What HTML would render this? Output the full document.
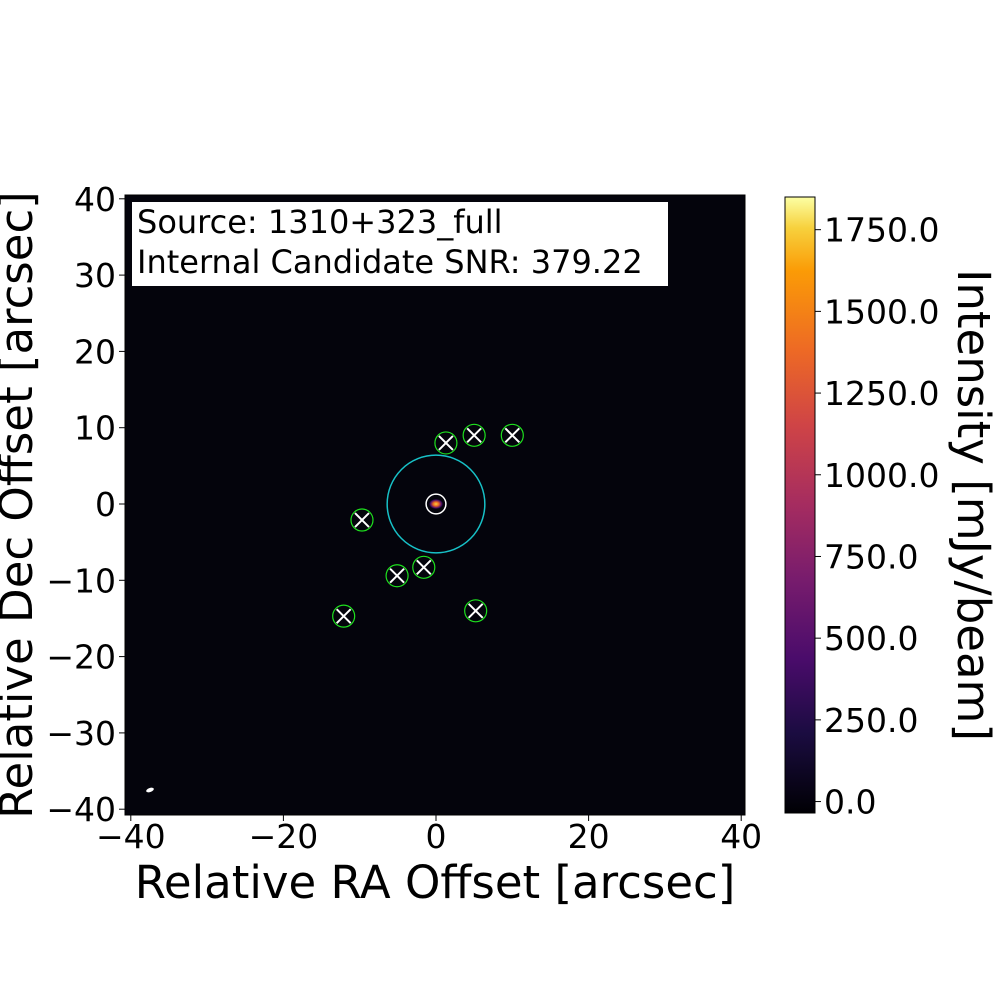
<!DOCTYPE html>
<html><head><meta charset="utf-8"><style>
body{margin:0;background:#fff}
svg text{font-family:"DejaVu Sans",sans-serif;fill:#000}
</style></head><body>
<svg id="c" width="1000" height="1000" xmlns="http://www.w3.org/2000/svg">
<defs>
<linearGradient id="inf" x1="0" y1="1" x2="0" y2="0">
<stop offset="0" stop-color="#000004"/><stop offset="0.13" stop-color="#1b0c41"/>
<stop offset="0.25" stop-color="#4a0c6b"/><stop offset="0.38" stop-color="#781c6d"/>
<stop offset="0.5" stop-color="#a52c60"/><stop offset="0.63" stop-color="#cf4446"/>
<stop offset="0.75" stop-color="#ed6925"/><stop offset="0.88" stop-color="#fb9b06"/>
<stop offset="0.95" stop-color="#f7d13d"/><stop offset="1" stop-color="#fcffa4"/>
</linearGradient>
<radialGradient id="src"><stop offset="0" stop-color="#f7d13d"/><stop offset="0.4" stop-color="#ed6925"/><stop offset="0.8" stop-color="#4a0c6b"/><stop offset="1" stop-color="#05030f"/></radialGradient>
</defs>
<g id="plot"></g>
</svg>
<script>
const xTicks=[-40,-20,0,20,40];
const yTicks=[40,30,20,10,0,-10,-20,-30,-40];
const candX=[1.3,5.0,10.0,-9.7,-5.1,-1.6,-12.1,5.2];
const candY=[8.0,9.0,9.0,-2.1,-9.4,-8.3,-14.7,-14.0];
const cbTicks=[0,250,500,750,1000,1250,1500,1750];
const cbMin=-35, cbMax=1850;
const searchRadius=6.4, centerRadius=1.3;
const NS='http://www.w3.org/2000/svg';
const g=document.getElementById('plot');
const X0=125,X1=745,Y0=195,Y1=815;
const sx=v=>436+v*7.63, sy=v=>504-v*7.63, sr=v=>v*7.63;
function mk(t,a,p){const e=document.createElementNS(NS,t);for(const k in a)e.setAttribute(k,a[k]);(p||g).appendChild(e);return e;}
let r=mk('rect',{x:X0,y:Y0,width:X1-X0,height:Y1-Y0,fill:'#04040c',stroke:'#000','stroke-width':1});

let s=mk('ellipse',{cx:sx(0),cy:sy(0),rx:7,ry:5,fill:'url(#src)'});

let b=mk('ellipse',{cx:150,cy:790,rx:4,ry:2,fill:'#fff',transform:'rotate(-20 150 790)'});

let sc=mk('circle',{cx:sx(0),cy:sy(0),r:sr(searchRadius),fill:'none',stroke:'#17c1c7','stroke-width':1.5});

let cc=mk('circle',{cx:sx(0),cy:sy(0),r:sr(centerRadius),fill:'none',stroke:'#fff','stroke-width':1.5});

for(let i=0;i<candX.length;i++){
 const cx=sx(candX[i]),cy=sy(candY[i]);
 const gg=mk('g',{});
 
 mk('circle',{cx,cy,r:11,fill:'none',stroke:'#1ee01e','stroke-width':1.2},gg);
 mk('path',{d:`M${cx-7} ${cy-7}L${cx+7} ${cy+7}M${cx-7} ${cy+7}L${cx+7} ${cy-7}`,stroke:'#fff','stroke-width':2},gg);
}
let lb=mk('rect',{x:132,y:202,width:536,height:84,fill:'#fff'});

let t1=mk('text',{x:137,y:233,'font-size':32});t1.textContent='Source: 1310+323_full';

let t2=mk('text',{x:137,y:273,'font-size':32});t2.textContent='Internal Candidate SNR: 379.22';

xTicks.forEach(v=>{mk('line',{x1:sx(v),x2:sx(v),y1:Y1,y2:Y1+6,stroke:'#000'});
 let t=mk('text',{x:sx(v),y:Y1+33,'font-size':33,'text-anchor':'middle'});t.textContent=(v<0?'\u2212':'')+Math.abs(v);
 });
yTicks.forEach(v=>{mk('line',{x1:X0-6,x2:X0,y1:sy(v),y2:sy(v),stroke:'#000'});
 let t=mk('text',{x:X0-9,y:sy(v)+12,'font-size':33,'text-anchor':'end'});t.textContent=(v<0?'\u2212':'')+Math.abs(v);
 });
let xt=mk('text',{x:435,y:898,'font-size':45,'text-anchor':'middle'});xt.textContent='Relative RA Offset [arcsec]';

let yt=mk('text',{x:32,y:505,'font-size':45,'text-anchor':'middle',transform:'rotate(-90 32 505)'});yt.textContent='Relative Dec Offset [arcsec]';

const CB0=197,CB1=813,cy=v=>CB1-(v-cbMin)/(cbMax-cbMin)*(CB1-CB0);
let cb=mk('rect',{x:785,y:CB0,width:30,height:CB1-CB0,fill:'url(#inf)',stroke:'#000','stroke-width':1});

cbTicks.forEach(v=>{mk('line',{x1:815,x2:821,y1:cy(v),y2:cy(v),stroke:'#000'});
 let t=mk('text',{x:824,y:cy(v)+12,'font-size':33});t.textContent=v.toFixed(1);
 });
let ct=mk('text',{x:958,y:505,'font-size':45,'text-anchor':'middle',transform:'rotate(90 958 505)'});ct.textContent='Intensity [mJy/beam]';

</script>
</body></html>
